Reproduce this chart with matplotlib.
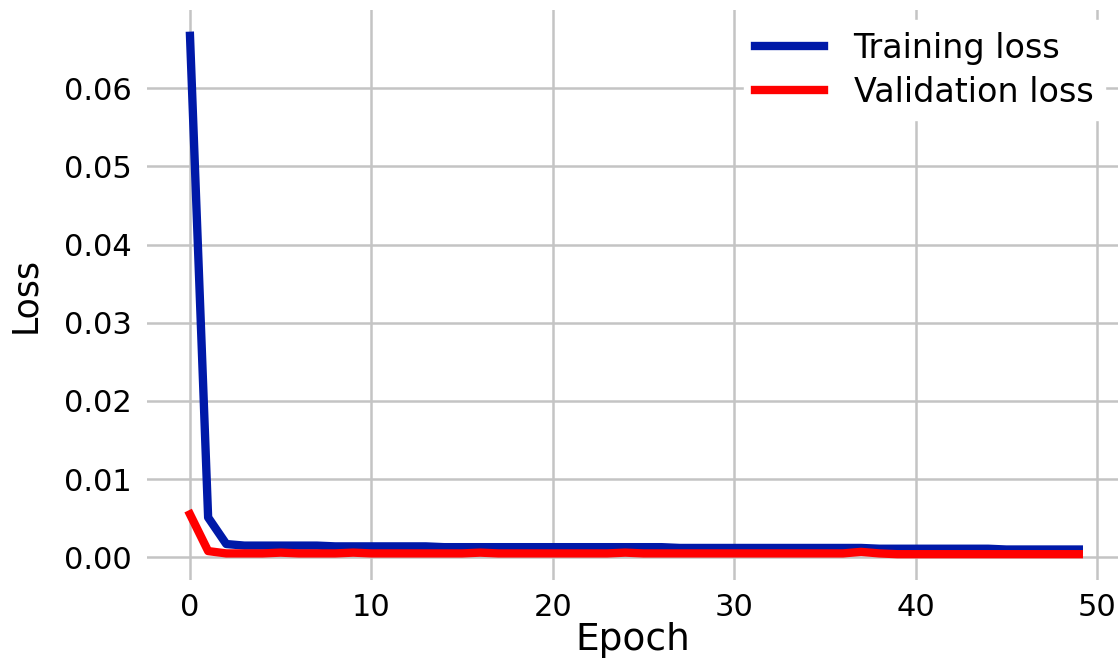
import matplotlib
matplotlib.use("Agg")
import matplotlib.pyplot as plt

epochs = list(range(50))
train_loss = [0.0667, 0.0051, 0.0017, 0.0015, 0.0015, 0.0015, 0.0015, 0.0015, 0.0014, 0.0014,
              0.0014, 0.0014, 0.0014, 0.0014, 0.0013, 0.0013, 0.0013, 0.0013, 0.0013, 0.0013,
              0.0013, 0.0013, 0.0013, 0.0013, 0.0013, 0.0013, 0.0013, 0.0012, 0.0012, 0.0012,
              0.0012, 0.0012, 0.0012, 0.0012, 0.0012, 0.0012, 0.0012, 0.0012, 0.0011, 0.0011,
              0.0011, 0.0011, 0.0011, 0.0011, 0.0011, 0.0010, 0.0010, 0.0010, 0.0010, 0.0010]
val_loss = [0.0055, 0.0008, 0.0005, 0.0005, 0.0005, 0.0006, 0.0005, 0.0005, 0.0005, 0.0006,
            0.0005, 0.0005, 0.0005, 0.0005, 0.0005, 0.0005, 0.0006, 0.0005, 0.0005, 0.0005,
            0.0005, 0.0005, 0.0005, 0.0005, 0.0006, 0.0005, 0.0005, 0.0005, 0.0005, 0.0005,
            0.0005, 0.0005, 0.0005, 0.0005, 0.0005, 0.0005, 0.0005, 0.0007, 0.0005, 0.0004,
            0.0004, 0.0004, 0.0004, 0.0004, 0.0004, 0.0004, 0.0004, 0.0004, 0.0004, 0.0004]
x_ticks = [0, 10, 20, 30, 40, 50]
y_ticks = [0.0, 0.01, 0.02, 0.03, 0.04, 0.05, 0.06]
y_ticklabels = ['0.00', '0.01', '0.02', '0.03', '0.04', '0.05', '0.06']

plt.rcParams['font.family'] = ['DejaVu Sans']
fig = plt.figure(figsize=(11.18, 6.6), dpi=100)
ax = fig.add_axes([147/1118, 1 - 580/660, (1118 - 147)/1118, (580 - 10)/660])

ax.plot(epochs, train_loss, color='#0019A8', lw=6, label='Training loss')
ax.plot(epochs, val_loss, color='#FF0000', lw=6, label='Validation loss')

ax.set_xlim(-2.37, 51.16)
ax.set_ylim(-0.0029, 0.0700)
ax.set_xticks(x_ticks)
ax.set_yticks(y_ticks)
ax.set_yticklabels(y_ticklabels)
ax.tick_params(axis='both', labelsize=22, length=0)
ax.tick_params(axis='y', pad=11)
ax.tick_params(axis='x', pad=9)
for s in ax.spines.values():
    s.set_visible(False)
ax.grid(True, color='#c4c4c4', lw=1.8)
ax.set_axisbelow(True)
ax.set_xlabel('Epoch', fontsize=27, labelpad=0.5)
ax.set_ylabel('Loss', fontsize=25, labelpad=15.5)
leg = ax.legend(loc='upper right', fontsize=24, frameon=True, framealpha=1.0,
                edgecolor='white', fancybox=False, handlelength=2.05, handletextpad=0.9,
                labelspacing=0.33, borderpad=0.35, borderaxespad=0,
                bbox_to_anchor=(1105/1118, 1 - 20/660), bbox_transform=fig.transFigure)
for h in leg.get_lines():
    h.set_linewidth(6)
fig.savefig('out.png', dpi=100, facecolor='white')
